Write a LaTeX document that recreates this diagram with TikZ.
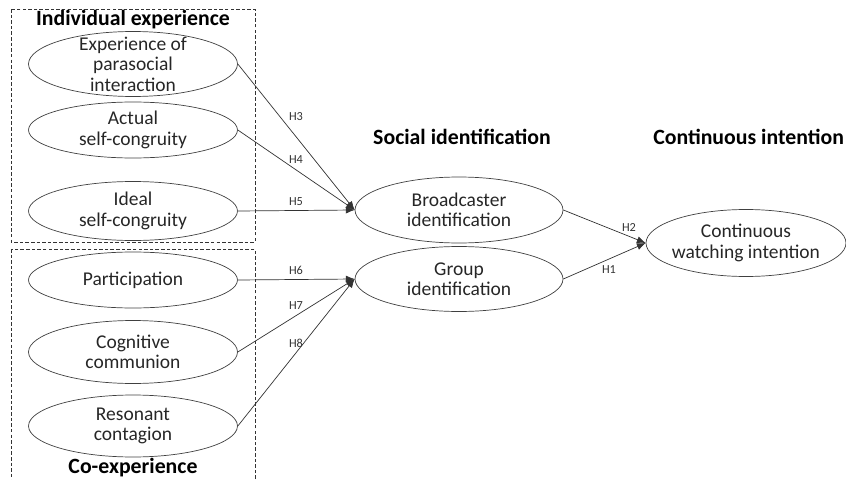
\documentclass[tikz,border=0pt]{standalone}
\usepackage{fontspec}
\setmainfont{Carlito}
\usetikzlibrary{shapes.geometric, arrows.meta}

\begin{document}
\begin{tikzpicture}[x=0.02cm, y=-0.02cm,
	construct/.style={draw=black!75, ellipse, minimum width=4.18cm, inner xsep=-8pt, inner ysep=-2pt, align=center,
		text=black!85, font=\fontsize{11.1}{11.6}\selectfont},
	hyparrow/.style={draw=black!80, -{Latex[length=5pt,width=4pt]}},
	hyp/.style={text=black!80, font=\fontsize{7}{8}\selectfont},
	blocktitle/.style={font=\bfseries\fontsize{12.4}{14}\selectfont},
	blockframe/.style={draw=black!80, dash pattern=on 2pt off 1.2pt}]
		\useasboundingbox (0,0) rectangle (846,480);
		% groups of antecedents
		\draw[blockframe] (11,9) rectangle (255,242);
		\draw[blockframe] (11,249) rectangle (255,495);
		\node[blocktitle] (indiv) at (133,20){Individual experience};
		\node[blocktitle] (coexp) at (133,468){Co-experience};
		\node[blocktitle] (socid) at (462,137){Social identification};
		\node[blocktitle, anchor=east, inner xsep=1pt] (contint) at (846,137){Continuous intention};
		% constructs
		\node[construct, minimum height=1.3cm, inner ysep=-7pt] (psi) at (133,64){Experience of\\ parasocial\\ interaction};
		\node[construct, minimum height=1.12cm] (asc) at (133,130){Actual\\ self-congruity};
		\node[construct, minimum height=1.18cm] (isc) at (133,211){Ideal\\ self-congruity};
		\node[construct, minimum height=1.12cm] (part) at (133,280){Participation};
		\node[construct, minimum height=1.26cm] (cogc) at (133,352){Cognitive\\ communion};
		\node[construct, minimum height=1.24cm] (resc) at (133,426){Resonant\\ contagion};
		\node[construct, minimum width=4.16cm, minimum height=1.32cm] (bcid) at (459,210){Broadcaster\\ identification};
		\node[construct, minimum width=4.16cm, minimum height=1.3cm] (grid) at (459,279){Group\\ identification};
		\node[construct, minimum width=4cm, minimum height=1.34cm] (cwi) at (746,243){Continuous\\ watching intention};
		% hypotheses
		\draw[hyparrow] (psi.east) -- (bcid.west);
		\draw[hyparrow] (asc.east) -- (bcid.west);
		\draw[hyparrow] (isc.east) -- (bcid.west);
		\draw[hyparrow] (part.east) -- (grid.west);
		\draw[hyparrow] (cogc.east) -- (grid.west);
		\draw[hyparrow] (resc.east) -- (grid.west);
		\draw[hyparrow] (bcid.east) -- (cwi.west);
		\draw[hyparrow] (grid.east) -- (cwi.west);
		\node[hyp] (h3) at (296,117){H3};
		\node[hyp] (h4) at (296,160){H4};
		\node[hyp] (h5) at (296,202){H5};
		\node[hyp] (h6) at (296,270){H6};
		\node[hyp] (h7) at (296,306){H7};
		\node[hyp] (h8) at (296,343){H8};
		\node[hyp] (h2) at (629,228){H2};
		\node[hyp] (h1) at (609,270){H1};
\end{tikzpicture}
\end{document}
